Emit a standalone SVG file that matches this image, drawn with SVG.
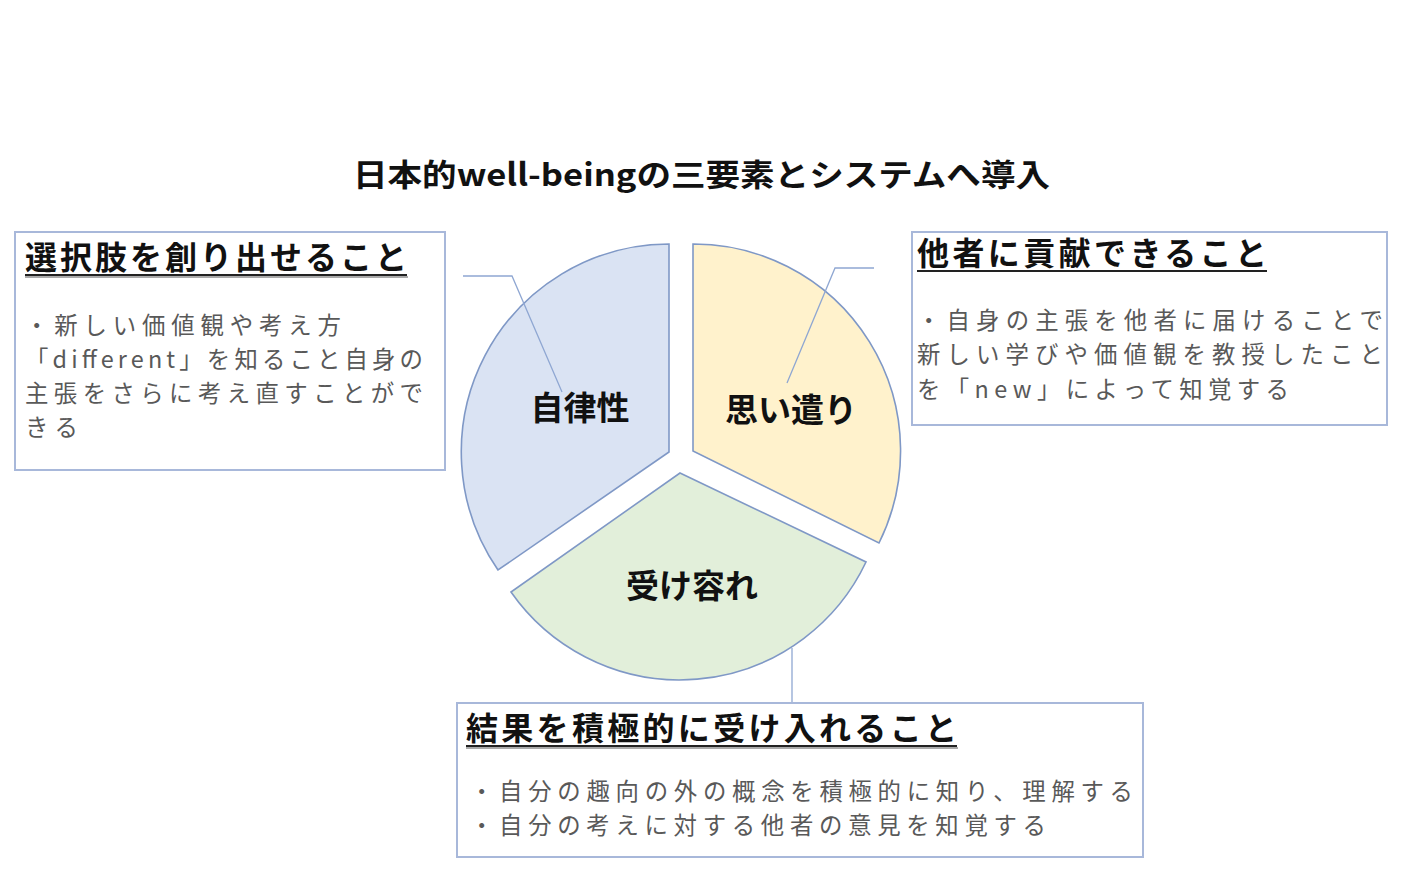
<svg xmlns="http://www.w3.org/2000/svg" width="1417" height="889" viewBox="0 0 1417 889">
<style>
text{font-family:"Noto Sans CJK JP","Liberation Sans",sans-serif;}
.title{font-size:31px;font-weight:bold;fill:#111;}
.lbl{font-size:33px;font-weight:bold;fill:#111;}
.bt{font-size:32px;font-weight:bold;fill:#111;}
.body{font-size:23.4px;fill:#595959;}
.box{fill:#fff;stroke:#a8b8da;stroke-width:2;}
.sec{stroke:#7f98c6;stroke-width:1.6;}
.ul{stroke:#222;stroke-width:2.2;}
.ulsh{stroke:#aaa;stroke-width:2;}
.lead{fill:none;stroke:#8fa7d2;stroke-width:1.3;}
</style>
<rect width="1417" height="889" fill="#fff"/>
<text class="title" x="353" y="186" textLength="697" lengthAdjust="spacingAndGlyphs">日本的well-beingの三要素とシステムへ導入</text>

<g id="pie-autonomy">
<path class="sec" fill="#dae3f3" d="M669,452 L669,244 A208,208 0 0 0 498,570 Z"/>
<text class="lbl" x="580" y="420" text-anchor="middle">自律性</text>
</g>
<g id="pie-consideration">
<path class="sec" fill="#fff2cc" d="M693,451 L693,244 A207,207 0 0 1 879,543 Z"/>
<text class="lbl" x="791" y="422" text-anchor="middle">思い遣り</text>
</g>
<g id="pie-acceptance">
<path class="sec" fill="#e2efda" d="M680,473 L866,562 A206,206 0 0 1 511,592 Z"/>
<text class="lbl" x="692" y="598" text-anchor="middle">受け容れ</text>
</g>

<g id="connectors">
<polyline class="lead" points="463,276 512,276 562,392"/>
<polyline class="lead" points="787,383 835,268 874,268"/>
<polyline class="lead" points="792,648 792,703"/>
</g>

<g id="box-left">
<rect class="box" x="15" y="232" width="430" height="238"/>
<line class="ulsh" x1="25" y1="277" x2="408" y2="277"/>
<line class="ul" x1="25" y1="275" x2="407" y2="275"/>
<text class="bt" x="25" y="269" textLength="382" lengthAdjust="spacing">選択肢を創り出せること</text>
<text class="body" x="25" y="334" textLength="316" lengthAdjust="spacing">・新しい価値観や考え方</text>
<text class="body" x="25" y="368" textLength="398" lengthAdjust="spacing">「different」を知ること自身の</text>
<text class="body" x="25" y="402" textLength="398" lengthAdjust="spacing">主張をさらに考え直すことがで</text>
<text class="body" x="25" y="436" textLength="53" lengthAdjust="spacing">きる</text>
</g>

<g id="box-right">
<rect class="box" x="912" y="232" width="475" height="193"/>
<line class="ul" x1="917" y1="271" x2="1267" y2="271"/>
<text class="bt" x="917" y="265" textLength="350" lengthAdjust="spacing">他者に貢献できること</text>
<text class="body" x="917" y="329" textLength="466" lengthAdjust="spacing">・自身の主張を他者に届けることで</text>
<text class="body" x="917" y="363" textLength="466" lengthAdjust="spacing">新しい学びや価値観を教授したこと</text>
<text class="body" x="917" y="398" textLength="372" lengthAdjust="spacing">を「new」によって知覚する</text>
</g>

<g id="box-bottom">
<rect class="box" x="457" y="703" width="686" height="154"/>
<line class="ulsh" x1="466" y1="748" x2="958" y2="748"/>
<line class="ul" x1="466" y1="746" x2="957" y2="746"/>
<text class="bt" x="466" y="740" textLength="491" lengthAdjust="spacing">結果を積極的に受け入れること</text>
<text class="body" x="470" y="800" textLength="663" lengthAdjust="spacing">・自分の趣向の外の概念を積極的に知り、理解する</text>
<text class="body" x="470" y="834" textLength="576" lengthAdjust="spacing">・自分の考えに対する他者の意見を知覚する</text>
</g>
</svg>
